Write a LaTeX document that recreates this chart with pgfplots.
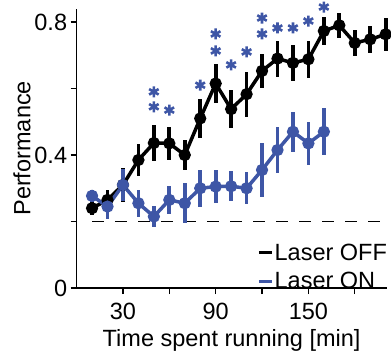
\documentclass[border=0pt]{standalone}
\usepackage{fontspec}
\setmainfont{Liberation Sans}
\usepackage{pgfplots}
\pgfplotsset{compat=1.18}
\definecolor{onblue}{RGB}{62,86,166}
\begin{document}
\begin{tikzpicture}
\begin{axis}[
  scale only axis,
  width=310bp, height=279.3bp,
  xmin=0, xmax=200.6, ymin=0, ymax=0.84,
  axis lines*=left,
  axis line style={line width=1.2bp},
  clip=false,
  font=\fontsize{23.5bp}{28bp}\selectfont,
  /pgf/number format/assume math mode=true,
  xtick={30,60,90,120,150,180},
  xticklabels={30,,90,,150,},
  ytick={0,0.2,0.4,0.6,0.8},
  yticklabels={0,,0.4,,0.8},
  tick align=outside,
  major tick length=6bp,
  tick style={black, line width=1.2bp},
  xticklabel style={yshift=-6bp},
  xlabel={Time spent running [min]},
  xlabel style={yshift=-2bp},
  ylabel={Performance},
  ylabel style={yshift=-3bp},
  legend style={draw=none, fill=none, at={(1.005,-0.013)}, anchor=south east,
    row sep=9bp, inner sep=0pt, nodes={inner sep=1bp}, font=\fontsize{23.5bp}{28bp}\selectfont},
  legend cell align=left,
  legend image code/.code={\draw[line width=3.5bp] (0bp,0bp) -- (13bp,0bp);},
]
% chance level
\addplot[forget plot, black, line width=1.8bp, dash pattern=on 12bp off 11bp] coordinates {(10,0.2) (200.6,0.2)};
% Laser OFF
\addplot[black, line width=3.5bp, mark=*, mark size=4.3bp,
  error bars/.cd, y dir=both, y explicit,
  error bar style={line width=3.8bp}, error mark=none]
coordinates {
(10,0.24) +- (0,0.02)
(20,0.265) +- (0,0.03)
(30,0.31) +- (0,0.05)
(40,0.385) +- (0,0.048)
(50,0.436) +- (0,0.053)
(60,0.435) +- (0,0.05)
(70,0.40) +- (0,0.045)
(80,0.51) +- (0,0.058)
(90,0.615) +- (0,0.058)
(100,0.538) +- (0,0.058)
(110,0.583) +- (0,0.068)
(120,0.653) +- (0,0.052)
(130,0.69) +- (0,0.054)
(140,0.677) +- (0,0.053)
(150,0.688) +- (0,0.055)
(160,0.773) +- (0,0.042)
(170,0.79) +- (0,0.037)
(180,0.737) +- (0,0.04)
(190,0.748) +- (0,0.04)
(200,0.763) +- (0,0.05)
};
\addlegendentry{Laser OFF}
% Laser ON
\addplot[onblue, line width=3.5bp, mark=*, mark size=4.3bp,
  error bars/.cd, y dir=both, y explicit,
  error bar style={line width=3.8bp}, error mark=none]
coordinates {
(10,0.277) +- (0,0.018)
(20,0.245) +- (0,0.037)
(30,0.31) +- (0,0.048)
(40,0.255) +- (0,0.04)
(50,0.215) +- (0,0.033)
(60,0.265) +- (0,0.043)
(70,0.255) +- (0,0.06)
(80,0.30) +- (0,0.055)
(90,0.305) +- (0,0.05)
(100,0.306) +- (0,0.045)
(110,0.30) +- (0,0.048)
(120,0.355) +- (0,0.08)
(130,0.415) +- (0,0.07)
(140,0.47) +- (0,0.06)
(150,0.435) +- (0,0.065)
(160,0.47) +- (0,0.07)
};
\addlegendentry{Laser ON}
% significance asterisks
\addplot[forget plot, only marks, onblue, mark=asterisk, mark size=5.5bp, line width=2.6bp]
coordinates {
(50,0.59) (50,0.545) (60,0.535) (80,0.61) (90,0.764) (90,0.713)
(100,0.671) (110,0.71) (120,0.812) (120,0.764) (130,0.782) (140,0.782)
(150,0.803) (160,0.845)
};
\end{axis}
\pgfresetboundingbox
\path[use as bounding box] (-76.6bp,-66bp) rectangle (314.4bp,288bp);
\end{tikzpicture}
\end{document}
